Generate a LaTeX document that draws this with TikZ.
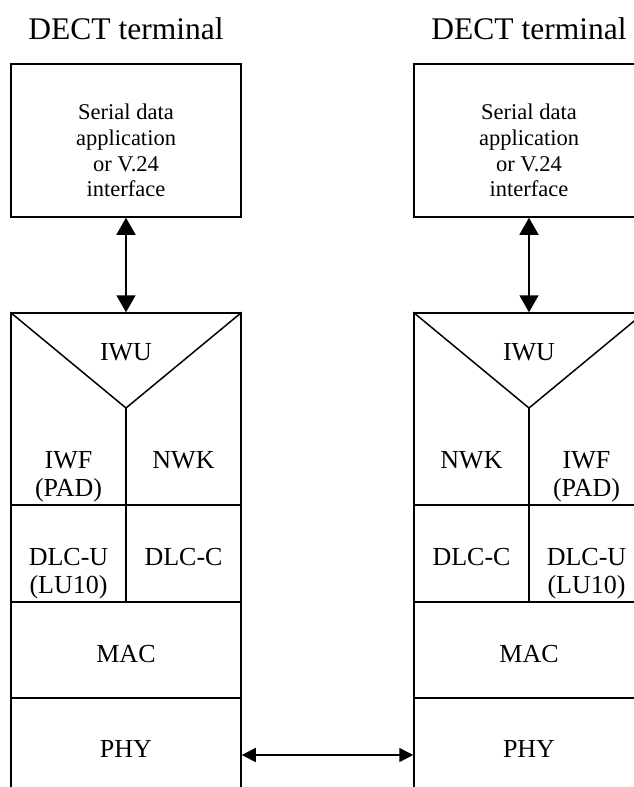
\documentclass[tikz,border=0pt]{standalone}
\usepackage{fontspec}
\setmainfont{Liberation Serif}
\usepackage{tikz}
\usetikzlibrary{positioning,arrows.meta}

\tikzset{
  layer/.style={draw, line width=1.5pt, minimum width=230pt, inner sep=0pt},
  lbl/.style={inner sep=0pt, align=center, font=\fontsize{26}{28}\selectfont},
  sertxt/.style={inner sep=0pt, align=center, font=\fontsize{22.5}{25.7}\selectfont},
  ttl/.style={inner sep=0pt, font=\fontsize{31.5}{34}\selectfont},
  vlink/.style={line width=1.5pt, {Triangle[length=17pt,width=19pt]}-{Triangle[length=17pt,width=19pt]}},
  hlink/.style={line width=1.5pt, {Triangle[length=14pt,width=14pt]}-{Triangle[length=14pt,width=14pt]}}
}

\begin{document}
\begin{tikzpicture}[x=1pt,y=1pt,yscale=-1,xscale=1]
%set diagram size
\useasboundingbox (0,0) rectangle (634,787);
\clip (0,0) rectangle (634,787);

% Titles
\node[ttl, anchor=base] (ltitle) at (126,39) {DECT terminal};
\node[ttl, anchor=base] (rtitle) at (529,39) {DECT terminal};

%Shape: Serial boxes
\node[layer, minimum height=153pt] (lser) at (126,140.5) {};
\node[layer, minimum height=153pt] (rser) at (529,140.5) {};
\node[sertxt, anchor=north] (lsertxt) at (126,104) {Serial data\\application\\or V.24\\interface};
\node[sertxt, anchor=north] (rsertxt) at (529,104) {Serial data\\application\\or V.24\\interface};

%Shape: left stack
\node[layer, minimum height=192pt] (lup) at (126,409) {};
\node[layer, minimum height=97pt] (ldlc) at (126,553.5) {};
\node[layer, minimum height=96pt] (lmac) at (126,650) {};
\node[layer, minimum height=114pt] (lphy) at (126,755) {};
\coordinate (lapex) at (126,408);
\draw[line width=1.5pt] (lup.north west) -- (lapex) -- (lup.north east);
\draw[line width=1.5pt] (lapex) -- (lup.south);
\draw[line width=1.5pt] (ldlc.north) -- (ldlc.south);

%Shape: right stack
\node[layer, minimum height=192pt] (rup) at (529,409) {};
\node[layer, minimum height=97pt] (rdlc) at (529,553.5) {};
\node[layer, minimum height=96pt] (rmac) at (529,650) {};
\node[layer, minimum height=114pt] (rphy) at (529,755) {};
\coordinate (rapex) at (529,408);
\draw[line width=1.5pt] (rup.north west) -- (rapex) -- (rup.north east);
\draw[line width=1.5pt] (rapex) -- (rup.south);
\draw[line width=1.5pt] (rdlc.north) -- (rdlc.south);

% Text Node: left labels
\node[lbl, anchor=base] (liwu) at (126,360) {IWU};
\node[lbl, anchor=north] (liwf) at (68.5,451) {IWF\\(PAD)};
\node[lbl, anchor=base] (lnwk) at (183.5,468) {NWK};
\node[lbl, anchor=north] (ldlcu) at (68.5,548) {DLC-U\\(LU10)};
\node[lbl, anchor=base] (ldlcc) at (183.5,565) {DLC-C};
\node[lbl, anchor=base] (lmactxt) at (126,662) {MAC};
\node[lbl, anchor=base] (lphytxt) at (126,757) {PHY};

% Text Node: right labels
\node[lbl, anchor=base] (riwu) at (529,360) {IWU};
\node[lbl, anchor=base] (rnwk) at (471.5,468) {NWK};
\node[lbl, anchor=north] (riwf) at (586.5,451) {IWF\\(PAD)};
\node[lbl, anchor=base] (rdlcc) at (471.5,565) {DLC-C};
\node[lbl, anchor=north] (rdlcu) at (586.5,548) {DLC-U\\(LU10)};
\node[lbl, anchor=base] (rmactxt) at (529,662) {MAC};
\node[lbl, anchor=base] (rphytxt) at (529,757) {PHY};

% Arrows
\draw[vlink] (lser.south) -- (lup.north);
\draw[vlink] (rser.south) -- (rup.north);
\draw[hlink] (lphy.east) -- (rphy.west);

\end{tikzpicture}
\end{document}
